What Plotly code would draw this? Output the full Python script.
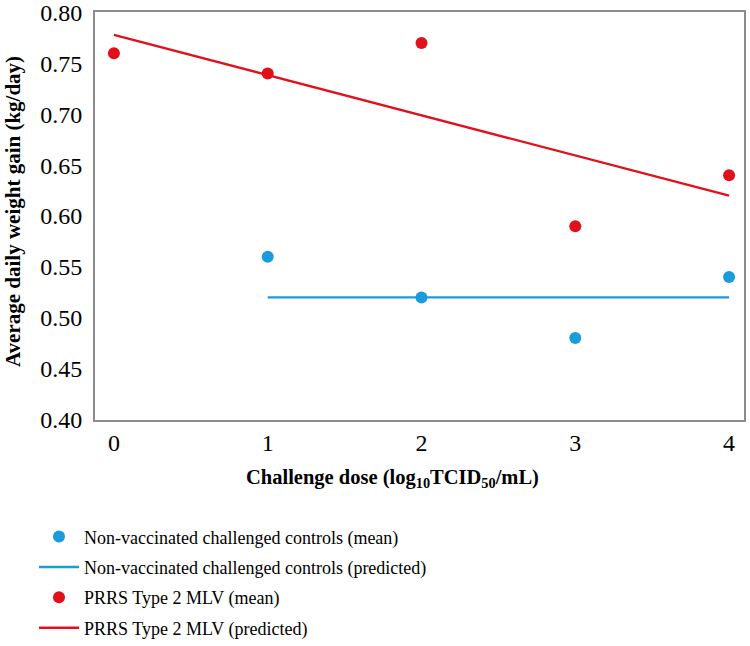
import plotly.graph_objects as go

dose_red = [0, 1, 2, 3, 4]
mean_red = [0.76, 0.74, 0.77, 0.59, 0.64]
dose_blue = [1, 2, 3, 4]
mean_blue = [0.56, 0.52, 0.48, 0.54]
pred_red_x = [0, 4]
pred_red_y = [0.778, 0.620]
pred_blue_x = [1, 4]
pred_blue_y = [0.52, 0.52]
y_ticks = [0.40, 0.45, 0.50, 0.55, 0.60, 0.65, 0.70, 0.75, 0.80]
x_ticks = [0, 1, 2, 3, 4]

BLUE = "#1A9BDB"
RED = "#E2101A"
FONT = "Liberation Serif, Times New Roman, serif"

fig = go.Figure()
fig.add_trace(go.Scatter(x=dose_blue, y=mean_blue, mode="markers",
                         marker=dict(color=BLUE, size=12), legendgroup="a",
                         name="Non-vaccinated challenged controls (mean)"))
fig.add_trace(go.Scatter(x=pred_blue_x, y=pred_blue_y, mode="lines",
                         line=dict(color=BLUE, width=2.4), legendgroup="b",
                         name="Non-vaccinated challenged controls (predicted)"))
fig.add_trace(go.Scatter(x=dose_red, y=mean_red, mode="markers",
                         marker=dict(color=RED, size=12), legendgroup="c",
                         name="PRRS Type 2 MLV (mean)"))
fig.add_trace(go.Scatter(x=pred_red_x, y=pred_red_y, mode="lines",
                         line=dict(color=RED, width=2.4), legendgroup="d",
                         name="PRRS Type 2 MLV (predicted)"))

fig.update_layout(
    width=750, height=646, autosize=False,
    margin=dict(l=95, r=6, t=12, b=226, autoexpand=False),
    plot_bgcolor="white", paper_bgcolor="white",
    font=dict(family=FONT, color="black"),
    showlegend=True,
    legend=dict(x=-0.094, xanchor="left", y=-0.241, yanchor="top",
                font=dict(size=18, family=FONT), itemwidth=40,
                tracegroupgap=4, bgcolor="rgba(0,0,0,0)"),
    annotations=[
        dict(text="<b>Challenge dose (log<sub>10</sub>TCID<sub>50</sub>/mL)</b>",
             xref="paper", yref="paper", x=(392 - 95) / 649, y=(420 - 478) / 408,
             xanchor="center", yanchor="middle", showarrow=False,
             font=dict(size=20.5, family=FONT)),
        dict(text="<b>Average daily weight gain (kg/day)</b>",
             xref="paper", yref="paper", x=(13 - 95) / 649, y=(420 - 212) / 408,
             xanchor="center", yanchor="middle", showarrow=False, textangle=-90,
             font=dict(size=21, family=FONT)),
    ],
)
fig.update_xaxes(range=[-0.123, 4.097], tickvals=x_ticks,
                 showgrid=False, zeroline=False, showline=True,
                 linecolor="#8c8c8c", linewidth=2, mirror=True, automargin=False,
                 ticklabeloverflow="allow",
                 ticks="", tickfont=dict(size=24, family=FONT))
fig.update_yaxes(range=[0.3995, 0.8005], tickvals=y_ticks,
                 tickformat=".2f", showgrid=False, zeroline=False, showline=True,
                 linecolor="#8c8c8c", linewidth=2, mirror=True, automargin=False,
                 ticklabeloverflow="allow",
                 ticks="", ticklabelstandoff=6, tickfont=dict(size=24, family=FONT))

fig.write_html("out.html", config={"displayModeBar": False},
               post_script="document.body.style.margin='0';document.body.style.overflow='hidden';")
